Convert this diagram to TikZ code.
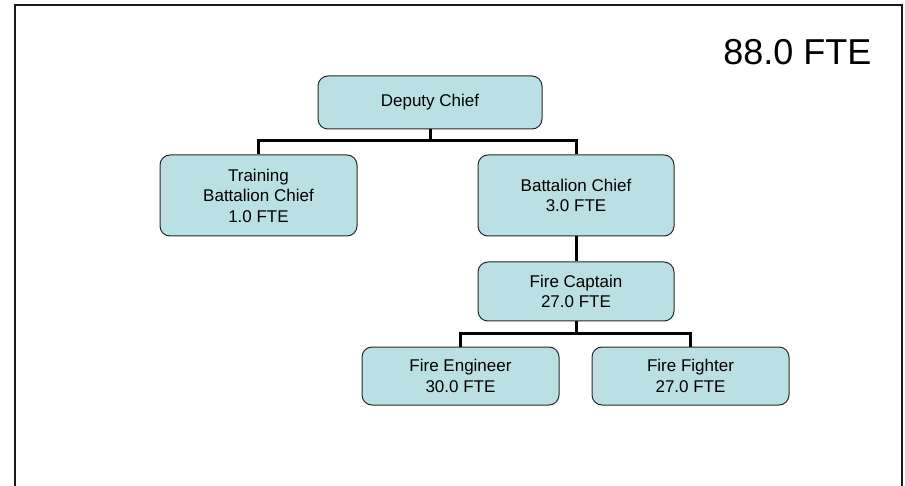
\documentclass[tikz,border=0pt]{standalone}
\usepackage{fontspec}
\setmainfont{Liberation Sans}
\definecolor{boxfill}{RGB}{186,224,227}
\definecolor{boxline}{RGB}{40,40,40}
\begin{document}
\begin{tikzpicture}[x=1pt,y=-1pt,
  orgbox/.style={draw=boxline,line width=1pt,fill=boxfill,rounded corners=10pt,
    inner sep=0pt,align=center,font=\fontsize{17}{20.5}\selectfont},
  conn/.style={line width=3pt,black}]
\useasboundingbox (0,0) rectangle (905,486);
\draw[line width=2.5pt,black!90] (15,490) -- (15,5) -- (902,5) -- (902,490);
\node[anchor=base east,font=\fontsize{36}{40}\selectfont] (total) at (875,64.5) {88.0 FTE};

\node[orgbox,minimum width=224pt,minimum height=53pt] (dc) at (430,102.5) {Deputy Chief};
\node[orgbox,minimum width=197pt,minimum height=81pt] (tbc) at (258.5,195.5) {Training\\Battalion Chief\\1.0 FTE};
\node[orgbox,minimum width=196pt,minimum height=81pt] (bc) at (576,195.5) {Battalion Chief\\3.0 FTE};
\node[orgbox,minimum width=196pt,minimum height=59pt] (fc) at (576,291.5) {Fire Captain\\27.0 FTE};
\node[orgbox,minimum width=197pt,minimum height=58pt] (fe) at (460.5,376) {Fire Engineer\\30.0 FTE};
\node[orgbox,minimum width=197pt,minimum height=58pt] (ff) at (690.5,376) {Fire Fighter\\27.0 FTE};

\coordinate (j1) at (430,141);
\coordinate (j2) at (576,334);
\draw[conn] (dc.south) -- (j1);
\draw[conn] (tbc.north) |- (j1) -| (bc.north);
\draw[conn] (bc.south) -- (fc.north);
\draw[conn] (fc.south) -- (j2);
\draw[conn] (fe.north) |- (j2) -| (ff.north);
\end{tikzpicture}
\end{document}
